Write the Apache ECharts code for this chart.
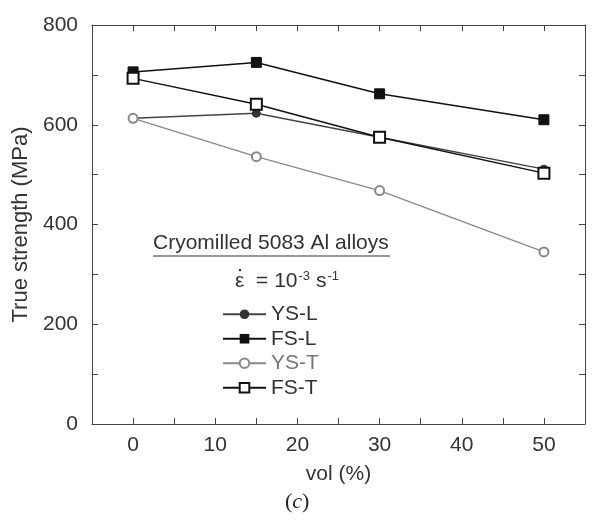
<!DOCTYPE html>
<html>
<head>
<meta charset="utf-8">
<script src="https://cdn.jsdelivr.net/npm/echarts@6/dist/echarts.min.js"></script>
<style>
  html, body { margin: 0; padding: 0; background: #fff; }
  #chart { width: 593px; height: 521px; }
</style>
</head>
<body>
<div id="chart"></div>
<script>
// data
const volPct = [0, 15, 30, 50];
const ysL = [613, 623, 575, 511];
const fsL = [706, 725, 662, 610];
const ysT = [613, 536, 468, 345];
const fsT = [693, 641, 575, 503];
const xTicks = [0, 10, 20, 30, 40, 50];
const yTicks = [0, 200, 400, 600, 800];

const FONT = 'Liberation Sans, Arial, sans-serif';

function pairs(vals) {
    return volPct.map((x, i) => [x, vals[i]]);
}

let chart = echarts.init(document.getElementById('chart'));

let axisCommon = {
    axisLine: { show: true, onZero: false, lineStyle: { color: '#444', width: 1 } },
    axisTick: { show: true, inside: true, length: 6, lineStyle: { color: '#444' } },
    splitLine: { show: false }
};

chart.setOption({
    animation: false,
    grid: { left: 92, top: 25, right: 8, bottom: 97 },
    xAxis: [
        Object.assign({}, axisCommon, {
            type: 'value', min: -5, max: 55, interval: 5,
            name: 'vol (%)', nameLocation: 'middle', nameGap: 40,
            nameTextStyle: { fontFamily: FONT, fontSize: 21, color: '#333' },
            axisLabel: {
                fontFamily: FONT, fontSize: 21, color: '#333', margin: 11,
                formatter: v => xTicks.indexOf(v) >= 0 ? String(v) : ''
            }
        }),
        Object.assign({}, axisCommon, {
            type: 'value', position: 'top', min: -5, max: 55, interval: 5,
            axisLabel: { show: false }
        })
    ],
    yAxis: [
        Object.assign({}, axisCommon, {
            type: 'value', min: 0, max: 800, interval: 100,
            name: 'True strength (MPa)', nameLocation: 'middle', nameGap: 52,
            nameTextStyle: { fontFamily: FONT, fontSize: 22, color: '#333' },
            axisLabel: {
                fontFamily: FONT, fontSize: 21, color: '#333', margin: 14,
                formatter: v => yTicks.indexOf(v) >= 0 ? String(v) : ''
            }
        }),
        Object.assign({}, axisCommon, {
            type: 'value', position: 'right', min: 0, max: 800, interval: 100,
            axisLabel: { show: false }
        })
    ],
    legend: {
        orient: 'vertical', left: 217, top: 298,
        itemWidth: 43, itemHeight: 12, itemGap: 2,
        textStyle: { fontFamily: FONT, fontSize: 21, color: '#333', lineHeight: 22.5 },
        data: [
            { name: 'YS-L' },
            { name: 'FS-L' },
            { name: 'YS-T', textStyle: { color: '#777' } },
            { name: 'FS-T' }
        ]
    },
    graphic: [
        {
            type: 'text', left: 153, top: 233,
            style: { text: 'Cryomilled 5083 Al alloys', font: '21px ' + FONT, fill: '#333' }
        },
        {
            type: 'line', shape: { x1: 153, y1: 256, x2: 390, y2: 256 },
            style: { stroke: '#333', lineWidth: 1.2 }
        },
        {
            type: 'text', left: 235, top: 270,
            style: {
                text: 'ε  = 10{sup|-3} s{sup|-1}',
                font: '21px ' + FONT, fill: '#333',
                rich: {
                    sup: { fontFamily: FONT, fontSize: 13, fill: '#333', verticalAlign: 'top', padding: [0, 0, 10, 1] }
                }
            }
        },
        {
            // dot over epsilon
            type: 'circle', shape: { cx: 240, cy: 270, r: 1.2 },
            style: { fill: '#333' }
        },
        {
            type: 'text', left: 285, top: 491,
            style: {
                text: '({it|c})',
                font: '22px Liberation Serif, Times New Roman, serif', fill: '#222',
                rich: { it: { fontFamily: 'Liberation Serif', fontStyle: 'italic', fontSize: 22, fill: '#222' } }
            }
        }
    ],
    series: [
        {
            name: 'YS-L', type: 'line', data: pairs(ysL),
            symbol: 'circle', symbolSize: 8,
            lineStyle: { color: '#444', width: 1.5 },
            itemStyle: { color: '#333', borderColor: '#333' }
        },
        {
            name: 'FS-L', type: 'line', data: pairs(fsL),
            symbol: 'rect', symbolSize: 10,
            lineStyle: { color: '#111', width: 1.5 },
            itemStyle: { color: '#111', borderColor: '#111' }
        },
        {
            name: 'YS-T', type: 'line', data: pairs(ysT),
            symbol: 'emptyCircle', symbolSize: 9,
            lineStyle: { color: '#888', width: 1.3 },
            itemStyle: { color: '#888', borderColor: '#888', borderWidth: 1.2 }
        },
        {
            name: 'FS-T', type: 'line', data: pairs(fsT),
            symbol: 'emptyRect', symbolSize: 11,
            lineStyle: { color: '#111', width: 1.5 },
            itemStyle: { color: '#111', borderColor: '#111', borderWidth: 1.3 }
        }
    ]
});
</script>
</body>
</html>
